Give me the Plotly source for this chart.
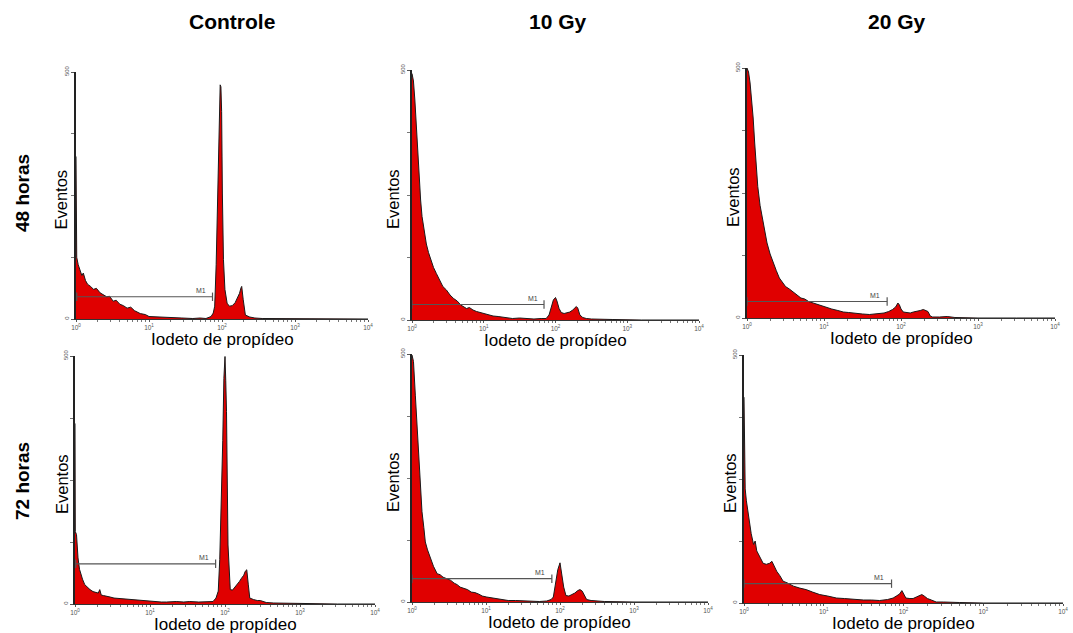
import plotly.graph_objects as go

# ---------------- data ----------------
conditions = ["Controle", "10 Gy", "20 Gy"]
times = ["48 horas", "72 horas"]

# log10 of fluorescence intensity (x) and events per channel (y)
ctrl48_logx = [0, 0.003, 0.01, 0.03, 0.05, 0.08, 0.1, 0.13, 0.16, 0.2, 0.24, 0.28, 0.33, 0.37, 0.42, 0.46,
               0.51, 0.55, 0.6, 0.65, 0.7, 0.75, 0.8, 0.88, 0.95, 1.0, 1.1, 1.2, 1.32, 1.45, 1.6, 1.7, 1.78,
               1.85, 1.88, 1.9, 1.92, 1.94, 1.96, 1.975, 1.985, 1.995, 2.005, 2.02, 2.04, 2.07, 2.1, 2.14,
               2.18, 2.21, 2.24, 2.26, 2.27, 2.29, 2.32, 2.38, 2.45, 2.55, 2.7, 3.0, 3.5, 4.0]
ctrl48_counts = [329, 140, 125, 110, 100, 88, 93, 78, 70, 66, 60, 62, 53, 50, 45, 46,
                 36, 38, 30, 27, 22, 24, 17, 11, 9, 5, 4, 3, 2, 2, 1, 2, 1,
                 5, 12, 26, 110, 250, 390, 474, 470, 420, 255, 120, 60, 32, 26, 27,
                 33, 42, 52, 63, 66, 40, 8, 4, 2, 1, 1, 0, 0, 0]

gy10_48_logx = [0, 0.02, 0.04, 0.06, 0.08, 0.1, 0.12, 0.14, 0.17, 0.2, 0.23, 0.26, 0.3, 0.34, 0.38, 0.43,
                0.48, 0.53, 0.58, 0.63, 0.68, 0.72, 0.76, 0.8, 0.85, 0.9, 0.95, 1.0, 1.07, 1.13, 1.2, 1.3,
                1.4, 1.5, 1.6, 1.7, 1.8, 1.87, 1.91, 1.94, 1.97, 2.0, 2.02, 2.05, 2.08, 2.12, 2.16, 2.2,
                2.24, 2.27, 2.29, 2.31, 2.34, 2.38, 2.43, 2.5, 2.62, 2.8, 3.2, 3.6, 4.0]
gy10_48_counts = [493, 478, 440, 387, 330, 287, 240, 207, 175, 152, 135, 120, 105, 93, 80, 67,
                  60, 50, 43, 38, 30, 26, 23, 25, 20, 17, 15, 13, 10, 8, 7, 5,
                  3, 4, 3, 2, 3, 3, 10, 27, 40, 45, 38, 23, 15, 13, 14, 16,
                  20, 25, 27, 24, 10, 5, 3, 2, 1, 1, 0, 0, 0]

gy20_48_logx = [0, 0.02, 0.04, 0.06, 0.08, 0.1, 0.12, 0.14, 0.17, 0.2, 0.23, 0.26, 0.3, 0.34, 0.38, 0.42,
                0.46, 0.5, 0.55, 0.6, 0.65, 0.7, 0.75, 0.8, 0.86, 0.92, 0.98, 1.03, 1.1, 1.18, 1.25, 1.32,
                1.4, 1.5, 1.59, 1.7, 1.78, 1.84, 1.89, 1.93, 1.96, 1.98, 2.0, 2.03, 2.07, 2.12, 2.16, 2.2,
                2.25, 2.29, 2.32, 2.35, 2.38, 2.41, 2.5, 2.6, 2.7, 3.0, 3.5, 4.0]
gy20_48_counts = [500, 492, 470, 437, 400, 350, 305, 263, 225, 197, 170, 150, 128, 110, 95, 80,
                  72, 63, 58, 52, 46, 40, 38, 33, 30, 27, 24, 20, 18, 15, 12, 11,
                  9, 8, 7, 8, 10, 13, 17, 22, 30, 26, 18, 12, 11, 10, 12, 13,
                  15, 17, 15, 13, 4, 2, 2, 3, 1, 0, 0, 0]

ctrl72_logx = [0, 0.004, 0.02, 0.04, 0.06, 0.08, 0.1, 0.13, 0.16, 0.2, 0.24, 0.28, 0.31, 0.33, 0.35, 0.38,
               0.42, 0.47, 0.52, 0.6, 0.68, 0.76, 0.87, 0.95, 1.05, 1.15, 1.22, 1.35, 1.45, 1.53, 1.65, 1.75,
               1.84, 1.88, 1.91, 1.93, 1.95, 1.97, 1.985, 2.0, 2.01, 2.02, 2.04, 2.07, 2.1, 2.13, 2.16, 2.19,
               2.22, 2.25, 2.27, 2.29, 2.31, 2.33, 2.38, 2.43, 2.47, 2.55, 2.65, 3.0, 3.5, 4.0]
ctrl72_counts = [364, 146, 140, 93, 70, 59, 50, 39, 34, 29, 25, 24, 22, 29, 18, 17,
                 15, 14, 12, 11, 9, 8, 7, 6, 5, 4, 4, 5, 4, 5, 4, 5,
                 5, 12, 26, 90, 187, 330, 455, 499, 450, 388, 119, 29, 28, 33, 39, 45,
                 52, 58, 66, 69, 40, 12, 9, 7, 7, 3, 2, 1, 0, 0]

gy10_72_logx = [0, 0.02, 0.045, 0.07, 0.1, 0.135, 0.16, 0.18, 0.21, 0.25, 0.29, 0.34, 0.38, 0.42, 0.47, 0.52,
                0.57, 0.61, 0.65, 0.7, 0.75, 0.8, 0.85, 0.9, 0.95, 1.01, 1.08, 1.15, 1.22, 1.3, 1.4, 1.5,
                1.6, 1.72, 1.82, 1.88, 1.91, 1.94, 1.97, 2.0, 2.02, 2.05, 2.08, 2.12, 2.16, 2.2, 2.24, 2.27,
                2.3, 2.33, 2.36, 2.42, 2.5, 2.6, 3.0, 3.5, 4.0]
gy10_72_counts = [498, 485, 417, 350, 249, 182, 150, 121, 105, 87, 72, 57, 55, 50, 47, 44,
                  38, 35, 30, 28, 25, 20, 19, 16, 12, 10, 8, 6, 4, 3, 3, 2,
                  2, 1, 2, 5, 10, 35, 65, 79, 60, 30, 13, 12, 15, 18, 23, 25,
                  22, 13, 5, 3, 2, 1, 0, 0, 0]

gy20_72_logx = [0, 0.004, 0.008, 0.015, 0.03, 0.05, 0.07, 0.09, 0.12, 0.14, 0.16, 0.2, 0.24, 0.28, 0.32, 0.35,
                0.38, 0.41, 0.45, 0.49, 0.55, 0.62, 0.7, 0.78, 0.86, 0.95, 1.05, 1.16, 1.26, 1.37, 1.5, 1.6,
                1.7, 1.8, 1.87, 1.91, 1.95, 1.98, 2.0, 2.03, 2.08, 2.12, 2.16, 2.2, 2.23, 2.26, 2.3, 2.35,
                2.41, 2.5, 2.62, 2.7, 3.0, 3.5, 4.0]
gy20_72_counts = [415, 321, 253, 230, 206, 180, 159, 140, 118, 125, 105, 91, 80, 78, 80, 84,
                  72, 64, 55, 44, 40, 34, 30, 27, 22, 17, 14, 10, 9, 7, 6, 6,
                  5, 7, 10, 14, 18, 25, 20, 10, 9, 9, 12, 15, 17, 14, 9, 6,
                  2, 2, 2, 1, 0, 0, 0]

# M1 gate markers (log10 start, log10 end, level in events)
m1_start_logx = [0.01, 0.0, 0.0, 0.01, 0.0, 0.0]
m1_end_logx = [1.87, 1.84, 1.82, 1.875, 1.89, 1.85]
m1_level = [45, 31, 33, 81, 47, 39]

x_tick_values = [1, 10, 100, 1000, 10000]
x_tick_labels = ["10<sup>0</sup>", "10<sup>1</sup>", "10<sup>2</sup>", "10<sup>3</sup>", "10<sup>4</sup>"]
y_tick_values = [0, 500]
y_tick_labels = ["0", "500"]
y_minor_values = [125, 250, 375]

series = [
    (ctrl48_logx, ctrl48_counts), (gy10_48_logx, gy10_48_counts), (gy20_48_logx, gy20_48_counts),
    (ctrl72_logx, ctrl72_counts), (gy10_72_logx, gy10_72_counts), (gy20_72_logx, gy20_72_counts),
]

# ---------------- layout geometry (pixels) ----------------
W, H = 1073, 633
# left, right, top, bottom of each plot area
panels = [
    (76, 368, 72, 319), (412, 699, 70, 320), (747, 1055, 68, 318),
    (75, 375, 356, 604), (412, 708, 354, 602), (744, 1063, 355, 603),
]
eventos_offset = [16, 19, 14, 13, 19, 14]

FONT = "Liberation Sans, Arial, sans-serif"
RED = "#e00000"

minor_vals = [m * 10 ** d for d in range(4) for m in range(2, 10)]

fig = go.Figure()
layout = dict(width=W, height=H, margin=dict(l=0, r=0, t=0, b=0, autoexpand=False),
              paper_bgcolor="white", plot_bgcolor="white", showlegend=False,
              font=dict(family=FONT, color="black"))
annotations = []

for i, ((lx, cnt), (l, r, t, b)) in enumerate(zip(series, panels)):
    assert len(lx) == len(cnt)
    n = "" if i == 0 else str(i + 1)
    xa, ya = "x" + n, "y" + n
    xs = [10 ** v for v in lx]
    fig.add_trace(go.Scatter(x=xs, y=cnt, mode="lines", fill="tozeroy", fillcolor=RED,
                             line=dict(color="#1a1a1a", width=1), xaxis=xa, yaxis=ya,
                             hoverinfo="skip"))
    # M1 marker
    fig.add_trace(go.Scatter(x=[10 ** m1_start_logx[i], 10 ** m1_end_logx[i]], y=[m1_level[i]] * 2,
                             mode="lines+markers", line=dict(color="#555555", width=1.2),
                             marker=dict(symbol="line-ns-open", size=6, line=dict(color="#555555", width=1.2)),
                             xaxis=xa, yaxis=ya, hoverinfo="skip"))
    annotations.append(dict(x=m1_end_logx[i] - 0.16, y=m1_level[i], xref=xa, yref=ya, text="M1",
                            xanchor="center", yanchor="bottom", showarrow=False, yshift=1,
                            font=dict(size=7, color="#444444")))
    layout["xaxis" + n] = dict(type="log", range=[0, 4], domain=[l / W, r / W], anchor=ya,
                               showline=True, linecolor="#333333", linewidth=1.3, showgrid=False,
                               zeroline=False, tickvals=x_tick_values, ticktext=x_tick_labels,
                               ticks="outside", ticklen=2, tickcolor="#555555",
                               tickfont=dict(size=6.5, color="#555555"),
                               minor=dict(tickvals=minor_vals, ticks="outside", ticklen=2,
                                          tickcolor="#777777"))
    layout["yaxis" + n] = dict(range=[0, 500], domain=[1 - b / H, 1 - t / H], anchor=xa,
                               showline=True, linecolor="#222222", linewidth=1.5, showgrid=False,
                               zeroline=False, tickvals=y_tick_values, ticktext=y_tick_labels,
                               ticks="outside", ticklen=3, tickcolor="#555555", tickangle=-90,
                               tickfont=dict(size=6, color="#555555"),
                               minor=dict(tickvals=y_minor_values, ticks="outside", ticklen=3,
                                          tickcolor="#777777"))
    # axis titles
    annotations.append(dict(x=(l - eventos_offset[i]) / W, y=1 - ((t + b) / 2 + 4) / H,
                            xref="paper", yref="paper", xanchor="center", yanchor="middle",
                            text="Eventos", textangle=-90, showarrow=False,
                            font=dict(size=16.5, family=FONT, color="black")))
    annotations.append(dict(x=((l + r) / 2) / W, y=1 - (b + 20) / H, xref="paper", yref="paper",
                            xanchor="center", yanchor="middle",
                            text="Iodeto de propídeo", showarrow=False,
                            font=dict(size=17, family=FONT, color="black")))

# column headers
for text, cx in zip(conditions, [232, 558, 897]):
    annotations.append(dict(x=cx / W, y=1 - 22 / H, xref="paper", yref="paper", text="<b>%s</b>" % text,
                            xanchor="center", yanchor="middle",
                            showarrow=False, font=dict(size=21, family=FONT, color="black")))
# row labels
for text, cy in zip(times, [193, 481]):
    annotations.append(dict(x=22 / W, y=1 - cy / H, xref="paper", yref="paper", text="<b>%s</b>" % text,
                            xanchor="center", yanchor="middle",
                            textangle=-90, showarrow=False, font=dict(size=19, family=FONT, color="black")))

layout["annotations"] = annotations
fig.update_layout(**layout)
fig.write_html("out.html")
